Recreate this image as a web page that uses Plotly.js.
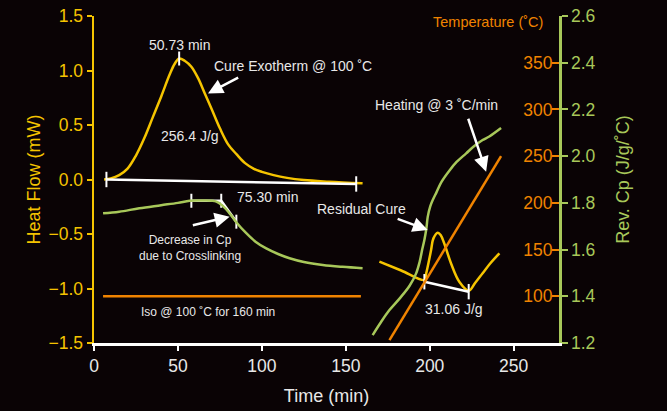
<!DOCTYPE html>
<html>
<head>
<meta charset="utf-8">
<script src="https://cdn.plot.ly/plotly-3.0.1.min.js"></script>
<style>
html,body{margin:0;padding:0;background:#0a0305;}
#chart{width:667px;height:411px;}
</style>
</head>
<body>
<div id="chart"></div>
<script>
// ---- Isothermal segment (0-160 min) ----
const isoTime = [6, 10, 15, 20, 25, 30, 35, 40, 45, 48, 50.73, 54, 58, 62, 66, 70, 75, 80, 85, 90, 95, 100, 107, 115, 125, 140, 160];
const isoHeatFlow = [0, 0.01, 0.04, 0.10, 0.22, 0.38, 0.57, 0.76, 0.96, 1.06, 1.11, 1.09, 1.035, 0.93, 0.79, 0.65, 0.47, 0.32, 0.23, 0.15, 0.10, 0.07, 0.04, 0.015, -0.005, -0.02, -0.035];

const isoCpTime = [5.4, 15, 27, 40, 50, 57, 65, 72.9, 77, 80.8, 85, 90.7, 96, 102.6, 110, 116.5, 125, 136.3, 148, 160];
const isoCp = [1.755, 1.762, 1.777, 1.79, 1.80, 1.809, 1.81, 1.805, 1.785, 1.755, 1.715, 1.67, 1.635, 1.605, 1.58, 1.563, 1.547, 1.534, 1.526, 1.52];

const isoTempTime = [5.4, 159];
const isoTemp = [100, 100];

// ---- Heating segment (3 C/min) ----
const heatTime = [170, 183, 196.8, 197.9, 199.4, 200.8, 202.2, 204.8, 206.5, 208.6, 212.7, 217.7, 223.3, 227, 231.5, 236, 241.5];
const heatHeatFlow = [-0.754, -0.835, -0.922, -0.86, -0.754, -0.647, -0.54, -0.488, -0.51, -0.585, -0.77, -0.94, -1.02, -0.95, -0.86, -0.77, -0.677];

const heatCpTime = [166, 171, 176, 182, 188, 191.9, 194, 195.5, 196.8, 198, 198.8, 200.3, 201.8, 204, 207, 211.9, 216, 221.7, 226, 231.5, 235.5, 242.5];
const heatCp = [1.234, 1.29, 1.341, 1.39, 1.445, 1.498, 1.548, 1.60, 1.641, 1.69, 1.74, 1.785, 1.812, 1.845, 1.89, 1.94, 1.975, 2.012, 2.04, 2.069, 2.084, 2.12];

const rampTime = [176, 242.5];
const rampTemp = [53, 250];

// ---- Analysis construction lines ----
const peakTime = [50.73];
const peakFlow = [1.11];
const baseTime = [7.4, 156.2];
const baseFlow = [0, -0.041];
const onsetFlatTime = [58, 75.8];
const onsetFlatFlow = [-0.195, -0.195];
const onsetSlopeTime = [75.8, 84.8];
const onsetSlopeFlow = [-0.195, -0.387];
const resBaseTime = [196.8, 223.2];
const resBaseFlow = [-0.938, -1.029];

// ---- Axis ticks ----
const timeTicks = [0, 50, 100, 150, 200, 250];
const flowTicks = [-1.5, -1.0, -0.5, 0.0, 0.5, 1.0, 1.5];
const cpTicks = [1.2, 1.4, 1.6, 1.8, 2.0, 2.2, 2.4, 2.6];
const tempTicks = [100, 150, 200, 250, 300, 350];

const YEL = '#f5c400', ORG = '#f08300', GRN = '#a8c85a', WHT = '#ffffff', TXT = '#e8e8e8';
const FONT = '"Liberation Sans", Arial, sans-serif';

const lineW = 2.5;
const traces = [
  {x: isoTempTime, y: isoTemp, yaxis: 'y3', mode: 'lines', line: {color: ORG, width: lineW}},
  {x: rampTime, y: rampTemp, yaxis: 'y3', mode: 'lines', line: {color: ORG, width: lineW}},
  {x: isoCpTime, y: isoCp, yaxis: 'y2', mode: 'lines', line: {color: GRN, width: lineW, shape: 'spline'}},
  {x: heatCpTime, y: heatCp, yaxis: 'y2', mode: 'lines', line: {color: GRN, width: lineW, shape: 'spline'}},
  {x: isoTime, y: isoHeatFlow, yaxis: 'y', mode: 'lines', line: {color: YEL, width: lineW, shape: 'spline'}},
  {x: heatTime, y: heatHeatFlow, yaxis: 'y', mode: 'lines', line: {color: YEL, width: lineW, shape: 'spline'}},
  {x: baseTime, y: baseFlow, yaxis: 'y', mode: 'lines+markers', line: {color: WHT, width: 2.5},
   marker: {symbol: 'line-ns', size: 11, line: {color: WHT, width: 2}}},
  {x: peakTime, y: peakFlow, yaxis: 'y', mode: 'markers',
   marker: {symbol: 'line-ns', size: 10, line: {color: WHT, width: 2}}},
  {x: onsetFlatTime, y: onsetFlatFlow, yaxis: 'y', mode: 'lines+markers', line: {color: WHT, width: 2.5},
   marker: {symbol: 'line-ns', size: 10, line: {color: WHT, width: 2}}},
  {x: onsetSlopeTime, y: onsetSlopeFlow, yaxis: 'y', mode: 'lines', line: {color: WHT, width: 2.5}},
  {x: [onsetSlopeTime[1]], y: [onsetSlopeFlow[1]], yaxis: 'y', mode: 'markers',
   marker: {symbol: 'line-ns', size: 10, line: {color: WHT, width: 2}}},
  {x: resBaseTime, y: resBaseFlow, yaxis: 'y', mode: 'lines+markers', line: {color: WHT, width: 2.5},
   marker: {symbol: 'line-ns', size: 11, line: {color: WHT, width: 2}}}
];

function txt(x, y, text, size) {
  return {x: x, y: y, xref: 'x', yref: 'y', text: text, showarrow: false,
          font: {family: FONT, size: size || 14, color: TXT}};
}
function arrow(x, y, ax, ay) {
  return {x: x, y: y, xref: 'x', yref: 'y', text: '', showarrow: true, ax: ax, ay: ay,
          arrowhead: 2, arrowsize: 1.2, arrowwidth: 2.5, arrowcolor: WHT, standoff: 0};
}

const annotations = [
  txt(51.0, 1.234, '50.73 min'),
  txt(118.3, 1.041, 'Cure Exotherm @ 100 ˚C'),
  txt(57, 0.40, '256.4 J/g'),
  txt(103.4, -0.16, '75.30 min'),
  txt(57, -0.63, 'Decrease in Cp<br>due to Crosslinking', 12),
  txt(67.7, -1.216, 'Iso @ 100 ˚C for 160 min', 12),
  txt(159.3, -0.27, 'Residual Cure'),
  txt(203.8, 0.683, 'Heating @ 3 ˚C/min'),
  txt(214.7, -1.19, '31.06 J/g'),
  arrow(67.9, 0.79, 31.7, -16.6),
  arrow(80.8, -0.341, -38.3, 9),
  arrow(198.8, -0.463, -31.6, -11.7),
  arrow(233.6, 0.072, -18.4, -54.4),
  {x: 0.847, y: 0.982, xref: 'paper', yref: 'paper', xanchor: 'center', yanchor: 'middle',
   text: 'Temperature (˚C)', showarrow: false,
   font: {family: FONT, size: 14.5, color: ORG}}
];

const layout = {
  width: 667, height: 411,
  margin: {l: 94, r: 108, t: 16, b: 68},
  paper_bgcolor: '#0a0305', plot_bgcolor: '#0a0305',
  showlegend: false,
  font: {family: FONT, color: TXT},
  xaxis: {
    range: [0, 277], tickvals: timeTicks, showgrid: false, zeroline: false,
    showline: true, linecolor: WHT, linewidth: 2.5, ticks: 'outside', ticklen: 5, tickwidth: 2, tickcolor: WHT,
    tickfont: {family: FONT, size: 17.5, color: TXT},
    title: {text: 'Time (min)', font: {family: FONT, size: 18, color: TXT}, standoff: 15}
  },
  yaxis: {
    range: [-1.5, 1.5], tickvals: flowTicks, tickformat: '.1f', showgrid: false, zeroline: false,
    showline: true, linecolor: YEL, linewidth: 2.5, ticks: 'outside', ticklen: 5, tickwidth: 2, tickcolor: YEL,
    tickfont: {family: FONT, size: 17.5, color: YEL},
    title: {text: 'Heat Flow (mW)', font: {family: FONT, size: 18, color: YEL}, standoff: 3}
  },
  yaxis2: {
    range: [1.2, 2.6], tickvals: cpTicks, tickformat: '.1f', overlaying: 'y', side: 'right', anchor: 'x',
    showgrid: false, zeroline: false,
    showline: true, linecolor: GRN, linewidth: 2.5, ticks: 'outside', ticklen: 6, tickwidth: 2, tickcolor: GRN,
    tickfont: {family: FONT, size: 17.5, color: GRN},
    title: {text: 'Rev. Cp (J/g/˚C)', font: {family: FONT, size: 18, color: GRN}, standoff: 22}
  },
  yaxis3: {
    range: [50, 400], tickvals: tempTicks, overlaying: 'y', side: 'right', anchor: 'x',
    showgrid: false, zeroline: false, showline: false,
    ticks: 'inside', ticklen: 7, tickwidth: 2, tickcolor: ORG, ticklabelposition: 'inside',
    tickfont: {family: FONT, size: 17.5, color: ORG}
  },
  annotations: annotations
};

Plotly.newPlot('chart', traces, layout, {staticPlot: true, displayModeBar: false});
</script>
</body>
</html>
